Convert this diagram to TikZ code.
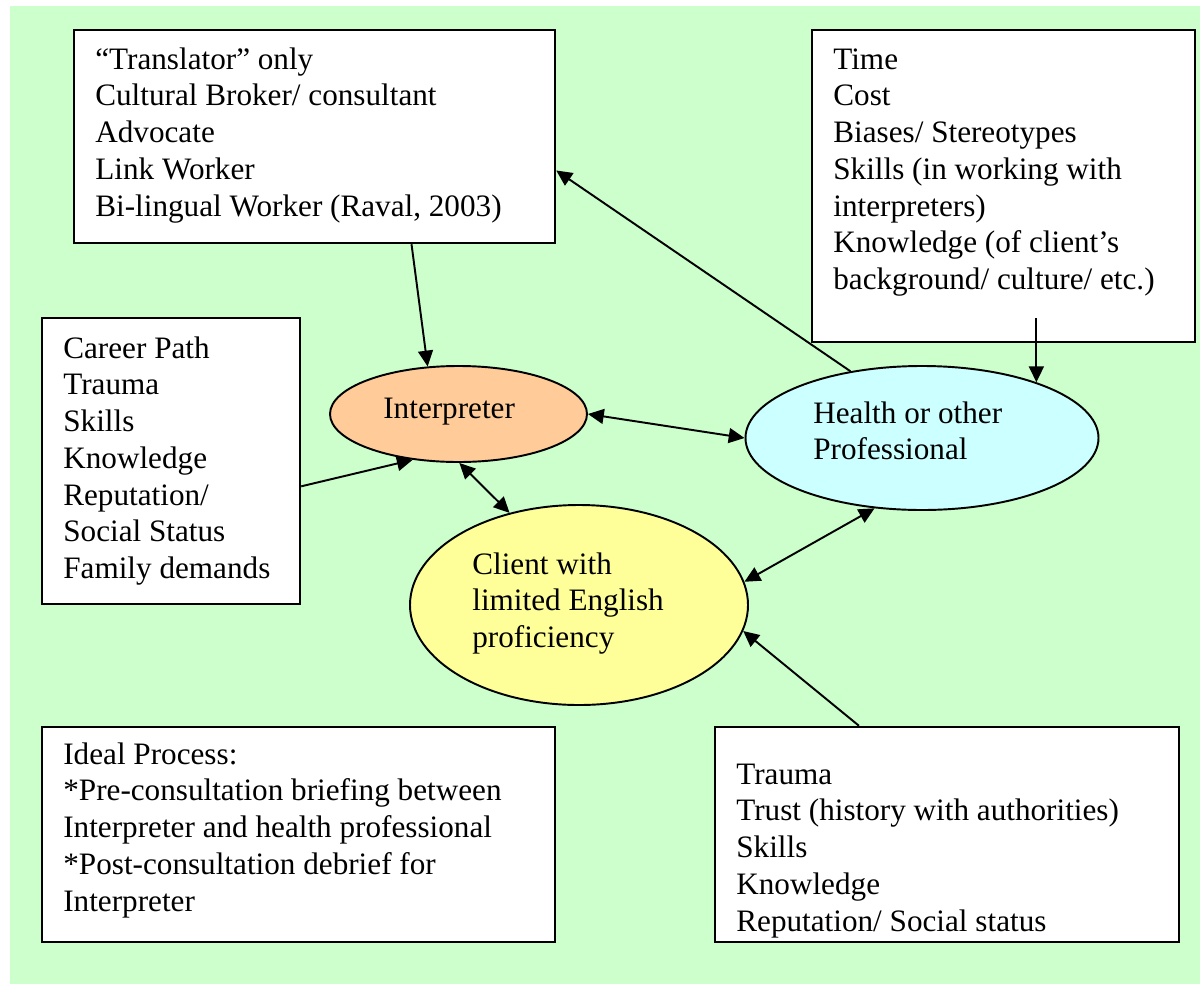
\documentclass[tikz,border=0pt]{standalone}
\usepackage{fontspec}
\setmainfont{Liberation Serif}
\usetikzlibrary{shapes.geometric,arrows.meta,calc}
\definecolor{bggreen}{HTML}{CCFFCC}
\definecolor{interpfill}{HTML}{FFCC99}
\definecolor{healthfill}{HTML}{CCFFFF}
\definecolor{clientfill}{HTML}{FFFF99}
\newcommand\bodyfont{\fontsize{17.75pt}{20.9pt}\selectfont}
% rectangle panel given by its corners (in px units)
\newcommand\panel[5]{\node[box, minimum width={(#4-#2)*0.02cm}, minimum height={(#5-#3)*0.02cm}] (#1) at ({(#2+#4)/2},{(#3+#5)/2}) {};}
\begin{document}
\begin{tikzpicture}[x=0.02cm, y=-0.02cm,
  box/.style={draw, line width=1.4pt, fill=white, inner sep=0pt, rectangle},
  oval/.style={ellipse, draw, line width=1.1pt, inner sep=0pt},
  txt/.style={align=left, anchor=north west, inner sep=0pt, font=\bodyfont},
  arr/.style={line width=1.1pt, -{Triangle[length=9pt,width=8.5pt]}},
  biarr/.style={line width=1.1pt, {Triangle[length=9pt,width=8.5pt]}-{Triangle[length=9pt,width=8.5pt]}}]
\useasboundingbox (0,0) rectangle (1200,984);
\fill[bggreen] (10,6) rectangle (1200,984);

% text panels
\panel{roles}{74}{30}{555}{243}
\panel{profissues}{812}{30}{1195}{342}
\panel{interpissues}{42}{318}{300}{604}
\panel{process}{42}{727}{555}{942}
\panel{clientissues}{715}{727}{1179}{942}

\node[txt] (roles-t) at (95,43.2) {\strut“Translator” only\\Cultural Broker/ consultant\\Advocate\\Link Worker\\Bi-lingual Worker (Raval, 2003)};
\node[txt] (profissues-t) at (833,43.2) {\strut Time\\Cost\\Biases/ Stereotypes\\Skills (in working with\\interpreters)\\Knowledge (of client’s\\background/ culture/ etc.)};
\node[txt] (interpissues-t) at (63,332.2) {\strut Career Path\\Trauma\\Skills\\Knowledge\\Reputation/\\Social Status\\Family demands};
\node[txt] (process-t) at (63,738.2) {\strut Ideal Process:\\*Pre-consultation briefing between\\Interpreter and health professional\\*Post-consultation debrief for\\Interpreter};
\node[txt] (clientissues-t) at (736,758.2) {\strut Trauma\\Trust (history with authorities)\\Skills\\Knowledge\\Reputation/ Social status};

% the three parties
\node[oval, fill=interpfill, minimum width=257*0.02cm, minimum height=96*0.02cm] (interp) at (458.5,414) {};
\node[oval, fill=healthfill, minimum width=353*0.02cm, minimum height=144*0.02cm] (health) at (922,438) {};
\node[oval, fill=clientfill, minimum width=338*0.02cm, minimum height=200*0.02cm] (client) at (579,605) {};

\node[txt] (interp-t) at (383,392.2) {\strut Interpreter};
\node[txt] (health-t) at (813,397.2) {\strut Health or other\\Professional};
\node[txt] (client-t) at (472,548.2) {\strut Client with\\limited English\\proficiency};

% connectors
\coordinate (h3) at (health.26.1);
\coordinate (p3) at ($(h3 |- profissues.south)+(0,-25)$);
\draw[arr] (roles.-48.1) -- (interp.123.3);
\draw[arr] (health.137.7) -- (roles.-8.4);
\draw[arr] (p3) -- (h3);
\draw[biarr] (interp.east) -- (health.west);
\draw[arr] (interpissues.-11) -- (interp.225.3);
\draw[biarr] (interp.-89) -- (client.127.3);
\draw[biarr] (health.236.7) -- (client.8.1);
\draw[arr] (clientissues.129.6) -- (client.-9.9);
\end{tikzpicture}
\end{document}
